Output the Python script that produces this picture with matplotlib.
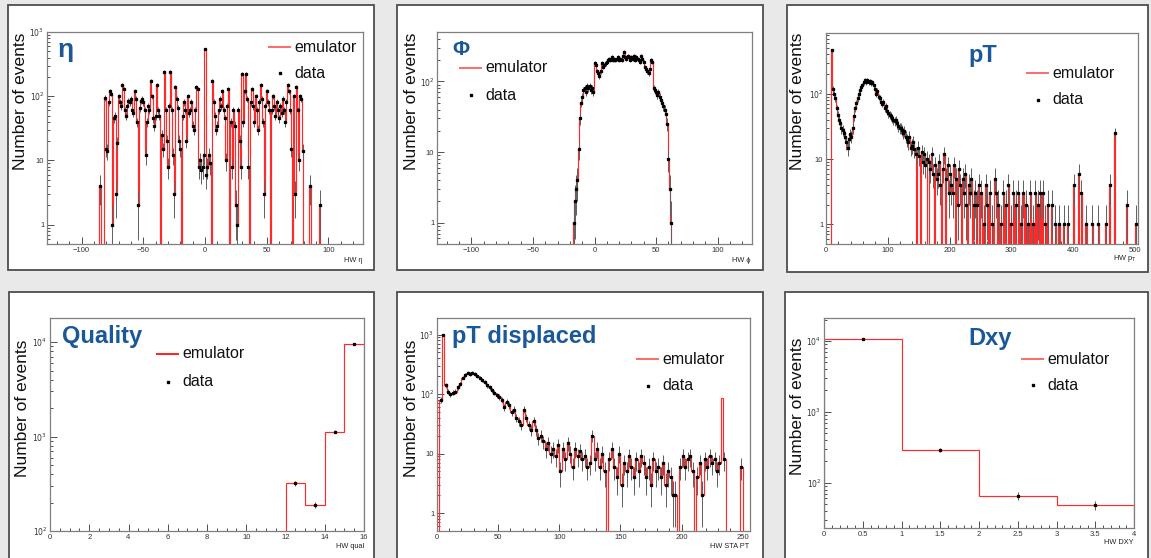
import numpy as np
import matplotlib.pyplot as plt
from matplotlib.patches import Rectangle
from matplotlib.lines import Line2D
from matplotlib.ticker import MultipleLocator, LogLocator, FuncFormatter, NullFormatter

plt.rcParams['font.family'] = ['Liberation Sans', 'DejaVu Sans']

W, H = 1151, 558

# HW eta, bin width 1, first bin centre at -85
eta_first = -85
eta_counts = [4, 0, 0, 0, 95, 15, 14, 80, 120, 110,
              1, 45, 50, 3, 19, 100, 80, 70, 150, 130,
              60, 50, 70, 85, 80, 90, 60, 55, 120, 90,
              40, 2, 65, 85, 90, 80, 60, 12, 40, 70,
              60, 170, 100, 45, 35, 50, 150, 60, 50, 0,
              25, 15, 240, 60, 20, 8, 70, 240, 60, 12,
              3, 140, 90, 65, 20, 15, 0, 50, 80, 60,
              20, 100, 55, 60, 80, 35, 30, 60, 140, 130,
              8, 10, 7, 8, 12, 550, 6, 8, 12, 9,
              0, 170, 80, 50, 30, 35, 60, 90, 70, 120,
              60, 45, 10, 70, 130, 0, 40, 8, 60, 35,
              2, 1, 60, 20, 8, 220, 40, 120, 220, 90,
              8, 0, 80, 130, 70, 40, 100, 60, 30, 80,
              150, 90, 40, 3, 70, 120, 80, 60, 0, 60,
              100, 70, 50, 80, 60, 45, 70, 55, 90, 60,
              40, 80, 150, 120, 60, 15, 0, 100, 3, 140,
              60, 10, 100, 90, 14, 0, 0, 0, 0, 0,
              4, 0, 0, 0, 0, 0, 0, 0, 2]

# HW phi, bin width 1, first bin centre at -17
phi_first = -17
phi_counts = [1, 2, 3, 4, 11, 30, 50, 60, 75, 80,
              70, 85, 80, 85, 75, 80, 70, 180, 170, 140,
              130, 120, 140, 180, 160, 170, 180, 190, 200, 210,
              200, 220, 200, 210, 200, 210, 220, 200, 210, 200,
              230, 260, 220, 210, 230, 220, 200, 220, 210, 230,
              200, 220, 210, 200, 190, 230, 210, 190, 160, 150,
              140, 130, 150, 200, 190, 80, 75, 70, 65, 70,
              60, 55, 50, 45, 40, 35, 25, 8, 3, 1]

# HW pT, bin width 2 from 0 to 240, then sparse tail
pt_dense = [0, 0, 0, 0, 460, 120, 100, 85, 60, 48,
            40, 35, 30, 28, 25, 22, 18, 15, 20, 24,
            22, 30, 45, 60, 72, 85, 100, 115, 125, 135,
            150, 160, 150, 160, 150, 155, 145, 150, 135, 120,
            100, 110, 90, 85, 75, 70, 75, 60, 65, 55,
            50, 48, 45, 42, 40, 38, 40, 35, 32, 30,
            30, 28, 25, 27, 22, 20, 18, 22, 15, 16,
            18, 14, 12, 0, 15, 11, 0, 13, 9, 12,
            8, 10, 0, 9, 7, 12, 6, 0, 8, 5,
            6, 9, 4, 0, 7, 12, 0, 5, 8, 3,
            6, 4, 3, 8, 0, 5, 2, 7, 4, 0,
            5, 3, 6, 2, 0, 4, 3, 5, 0, 2]
pt_tail_centres = [241, 245, 247, 251, 255, 259, 261, 265, 269, 273,
                   275, 279, 283, 287, 291, 295, 299, 303, 307, 311,
                   315, 319, 323, 327, 331, 335, 339, 343, 347, 351,
                   355, 359, 365, 371, 377, 385, 391, 401, 409, 413,
                   421, 431, 441, 453, 459, 467, 487, 501]
pt_tail_counts = [3, 2, 4, 3, 1, 4, 2, 3, 1, 5,
                  3, 2, 1, 3, 2, 4, 1, 3, 2, 3,
                  1, 3, 2, 1, 3, 1, 3, 2, 3, 3,
                  1, 2, 2, 1, 1, 1, 1, 4, 6, 3,
                  1, 1, 1, 1, 4, 25, 2, 1]

# HW quality, bin width 1 from 0 to 16
qual_counts = [0, 0, 0, 0, 0, 0, 0, 0, 0, 0, 0, 0, 320, 190, 1130, 9500]

# HW STA pT (displaced), bin width 2 from 0 to 126, then sparse tail
disp_dense = [0, 80, 1000, 140, 110, 100, 105, 110, 130, 150,
              190, 210, 230, 220, 230, 220, 200, 190, 170, 160,
              140, 130, 115, 105, 95, 90, 80, 60, 75, 65,
              50, 55, 40, 35, 30, 55, 40, 30, 25, 35,
              25, 18, 20, 16, 12, 15, 10, 12, 9, 14,
              5, 12, 8, 15, 10, 6, 12, 9, 11, 8,
              9, 6, 7]
disp_tail_centres = [127, 129, 131, 133, 135, 137,
                     141, 143, 145, 147, 149, 151, 153, 155, 157, 159,
                     161, 163, 165, 167, 169, 171, 173, 175, 177, 179,
                     181, 183, 185, 187, 189, 191, 193, 195,
                     199, 201, 203, 205, 207, 209,
                     213, 215, 217, 219, 221, 223, 225, 227, 229, 231,
                     235, 249]
disp_tail_counts = [20, 8, 12, 6, 10, 5,
                    8, 12, 6, 4, 10, 3, 7, 5, 9, 6,
                    4, 8, 5, 9, 7, 4, 6, 3, 8, 5,
                    6, 4, 7, 3, 5, 4, 2, 2,
                    6, 9, 6, 8, 9, 5,
                    4, 7, 2, 8, 6, 9, 7, 8, 5, 7,
                    8, 6]
# emulator-only bin
disp_emu_extra_centres = [233]
disp_emu_extra_counts = [85]

# HW DXY, bin width 1 from 0 to 4
dxy_counts = [10500, 290, 65, 48]

TITLE_COL = '#1b5899'


def fx(x):
    return x / W


def fy(y):
    return 1 - y / H


def fill_sparse(n_bins, width, centres, counts):
    arr = np.zeros(n_bins)
    for c, v in zip(centres, counts):
        arr[int(c // width)] = v
    return arr


def log_fmt(v, pos):
    e = int(round(np.log10(v)))
    if e == 0:
        return '1'
    if e == 1:
        return '10'
    return '$10^{%d}$' % e


def lin_fmt(v, pos):
    return ('%g' % v).replace('-', '\u2212')


def panel(box, axbox, edges, emu, data, xlim, ylim, major, minor,
          title, title_xy, title_ha, title_size, leg_x, leg_y1, leg_y2,
          ylab_xy, xlab, xlab_xy, leg_col='#ff6a6a'):
    l, t, r, b = box
    fig.add_artist(Rectangle((fx(l), fy(b)), fx(r) - fx(l), fy(t) - fy(b),
                             transform=fig.transFigure, facecolor='white',
                             edgecolor='#4d4d4d', lw=1.3, zorder=-5))
    al, at, ar, ab = axbox
    ax = fig.add_axes([fx(al), fy(ab), fx(ar) - fx(al), fy(at) - fy(ab)])
    ax.set_yscale('log')
    emu = np.asarray(emu, float)
    data = np.asarray(data, float)
    ax.stairs(np.where(emu > 0, emu, 1e-3), edges, baseline=1e-3,
              color='#ff2a2a', lw=0.85, zorder=2)
    centres = 0.5 * (edges[:-1] + edges[1:])
    m = data > 0
    err = np.sqrt(data)
    lo = np.minimum(err, data - 1e-3)
    ax.errorbar(centres[m], data[m], yerr=[lo[m], err[m]], fmt='s', ms=1.4,
                mfc='black', mec='black', ecolor='#5f5f5f', elinewidth=0.7,
                capsize=0, zorder=3)
    ax.set_xlim(*xlim)
    ax.set_ylim(*ylim)
    ax.xaxis.set_major_locator(MultipleLocator(major))
    ax.xaxis.set_minor_locator(MultipleLocator(minor))
    ax.xaxis.set_major_formatter(FuncFormatter(lin_fmt))
    ax.yaxis.set_major_locator(LogLocator(base=10, numticks=10))
    ax.yaxis.set_minor_locator(LogLocator(base=10, subs=np.arange(2, 10), numticks=20))
    ax.yaxis.set_major_formatter(FuncFormatter(log_fmt))
    ax.yaxis.set_minor_formatter(NullFormatter())
    ax.tick_params(which='both', direction='in', colors='#333333', labelsize=5.5,
                   pad=2, width=0.6)
    ax.tick_params(which='major', length=5)
    ax.tick_params(which='minor', length=2.5)
    for s in ax.spines.values():
        s.set_color('#7f7f7f')
        s.set_linewidth(0.9)

    fig.text(fx(title_xy[0]), fy(title_xy[1]), title, fontsize=title_size,
             fontweight='bold', color=TITLE_COL, ha=title_ha, va='baseline')
    fig.add_artist(Line2D([fx(leg_x), fx(leg_x + 21)], [fy(leg_y1)] * 2,
                          transform=fig.transFigure, color=leg_col, lw=1.4))
    fig.add_artist(Line2D([fx(leg_x + 10.5)], [fy(leg_y2)], transform=fig.transFigure,
                          marker='s', ms=1.8, color='black', ls='none'))
    fig.text(fx(leg_x + 25), fy(leg_y1), 'emulator', fontsize=11.5, va='center', color='#111111')
    fig.text(fx(leg_x + 25), fy(leg_y2), 'data', fontsize=11.5, va='center', color='#111111')
    fig.text(fx(ylab_xy[0]), fy(ylab_xy[1]), 'Number of events', rotation=90,
             ha='center', va='top', fontsize=12.5, color='#111111')
    fig.text(fx(xlab_xy[0]), fy(xlab_xy[1]), xlab, ha='right', va='center',
             fontsize=5.3, color='#222222')
    return ax


fig = plt.figure(figsize=(W / 100, H / 100), dpi=100, facecolor='#e9e9e9')

# eta
eta_edges = eta_first - 0.5 + np.arange(len(eta_counts) + 1)
panel((8, 5, 374, 270), (47, 32, 363, 244), eta_edges, eta_counts, eta_counts,
      (-128, 128), (0.5, 1000), 50, 10, 'η', (58, 57), 'left', 19,
      269, 47, 73, (21, 33), 'HW η', (362, 260))

# phi
phi_edges = phi_first - 0.5 + np.arange(len(phi_counts) + 1)
panel((397, 5, 763, 270), (437, 32, 752, 244), phi_edges, phi_counts, phi_counts,
      (-128, 128), (0.5, 500), 50, 10, 'Φ', (452, 55), 'left', 15,
      460, 68, 95, (411, 33), 'HW ϕ', (751, 260))

# pT
pt_counts = np.concatenate([pt_dense, fill_sparse(253, 2, pt_tail_centres, pt_tail_counts)[120:]])
pt_edges = 2.0 * np.arange(len(pt_counts) + 1)
panel((787, 5, 1148, 272), (826, 33, 1138, 244), pt_edges, pt_counts, pt_counts,
      (0, 505), (0.5, 850), 100, 20, 'pT', (983, 62), 'center', 17,
      1027, 73, 100, (798, 33), r'HW p$_{\mathrm{T}}$', (1137, 259))

# quality
qual_edges = np.arange(len(qual_counts) + 1, dtype=float)
panel((9, 292, 374, 566), (50, 318, 364, 531), qual_edges, qual_counts, qual_counts,
      (0, 16), (100, 18000), 2, 0.5, 'Quality', (62, 343), 'left', 17,
      157, 354, 382, (23, 340), 'HW qual', (364, 546), leg_col='#ff2020')

# pT displaced
disp_data = np.concatenate([disp_dense, fill_sparse(128, 2, disp_tail_centres, disp_tail_counts)[63:]])
disp_emu = disp_data + fill_sparse(128, 2, disp_emu_extra_centres, disp_emu_extra_counts)
disp_edges = 2.0 * np.arange(len(disp_data) + 1)
panel((397, 292, 763, 566), (437, 318, 750, 531), disp_edges, disp_emu, disp_data,
      (0, 256), (0.5, 1900), 50, 10, 'pT displaced', (452, 343), 'left', 17,
      637, 359, 386, (411, 340), 'HW STA PT', (749, 547))

# dxy
dxy_edges = np.arange(len(dxy_counts) + 1, dtype=float)
panel((785, 292, 1148, 566), (824, 318, 1134, 528), dxy_edges, dxy_counts, dxy_counts,
      (0, 4), (23, 21000), 0.5, 0.1, 'Dxy', (990, 345), 'center', 17,
      1022, 359, 385, (798, 338), 'HW DXY', (1134, 543))

fig.savefig('out.png', dpi=100, facecolor=fig.get_facecolor())
